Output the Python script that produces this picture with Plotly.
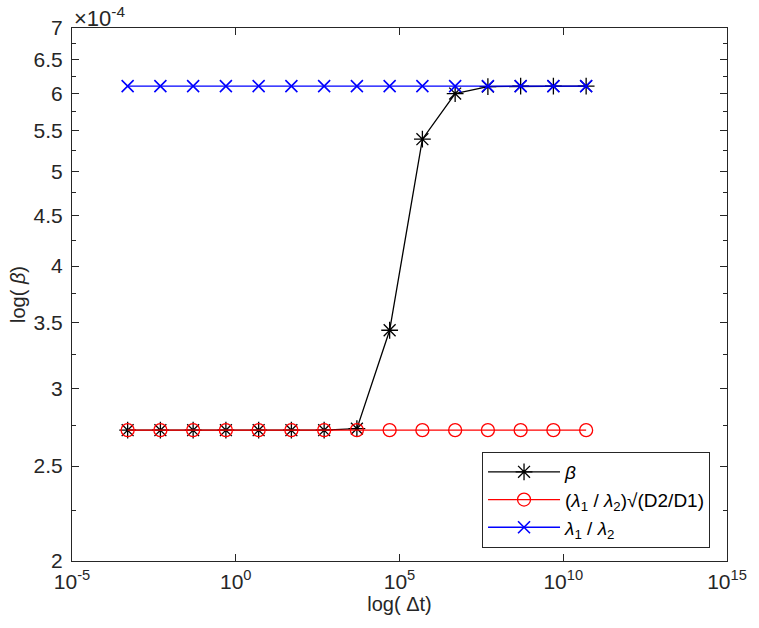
import plotly.graph_objects as go

dt = [5e-4, 5e-3, 5e-2, 5e-1, 5e0, 5e1, 5e2, 5e3, 5e4, 5e5, 5e6, 5e7, 5e8, 5e9, 5e10]
beta = [2.72e-4, 2.72e-4, 2.72e-4, 2.72e-4, 2.72e-4, 2.72e-4, 2.72e-4, 2.73e-4,
        3.44e-4, 5.39e-4, 6.00e-4, 6.10e-4, 6.105e-4, 6.105e-4, 6.105e-4]
ratio_sqrt = [2.72e-4] * 15
ratio = [6.107e-4] * 15

y_ticks = [2e-4, 2.5e-4, 3e-4, 3.5e-4, 4e-4, 4.5e-4, 5e-4, 5.5e-4, 6e-4, 6.5e-4, 7e-4]
y_ticktext = ["2", "2.5", "3", "3.5", "4", "4.5", "5", "5.5", "6", "6.5", "7"]
y_minor = [2.25e-4, 2.75e-4, 3.25e-4, 3.75e-4, 4.25e-4, 4.75e-4, 5.25e-4, 5.75e-4, 6.25e-4, 6.75e-4]
x_ticks = [1e-5, 1e0, 1e5, 1e10, 1e15]
x_ticktext = ["10<sup>-5</sup>", "10<sup>0</sup>", "10<sup>5</sup>", "10<sup>10</sup>", "10<sup>15</sup>"]

FONT = "Liberation Sans, Arial, sans-serif"
TXT = "#262626"

fig = go.Figure()
fig.add_trace(go.Scatter(x=dt, y=beta, mode="lines+markers", name="<i>β</i>",
                         line=dict(color="black", width=1.3),
                         marker=dict(symbol="asterisk-open", size=14, color="black",
                                     line=dict(color="black", width=1.3))))
fig.add_trace(go.Scatter(x=dt, y=ratio_sqrt, mode="lines+markers",
                         name="(<i>λ</i><sub>1</sub> / <i>λ</i><sub>2</sub>)√(D2/D1)",
                         line=dict(color="red", width=1.3),
                         marker=dict(symbol="circle-open", size=13, color="red",
                                     line=dict(color="red", width=1.3))))
fig.add_trace(go.Scatter(x=dt, y=ratio, mode="lines+markers",
                         name="<i>λ</i><sub>1</sub> / <i>λ</i><sub>2</sub>",
                         line=dict(color="blue", width=1.3),
                         marker=dict(symbol="x-thin-open", size=12, color="blue",
                                     line=dict(color="blue", width=1.6))))

axis_common = dict(showgrid=False, zeroline=False, showline=True, linecolor=TXT,
                   linewidth=1, mirror="ticks", ticks="inside", ticklen=7,
                   tickcolor=TXT, tickfont=dict(family=FONT, size=21, color=TXT))

fig.update_xaxes(type="log", range=[-5, 15], tickmode="array", tickvals=x_ticks,
                 ticktext=x_ticktext, ticklabelstandoff=2,
                 title=dict(text="log( Δt)", font=dict(family=FONT, size=20, color=TXT), standoff=2),
                 **axis_common)
fig.update_yaxes(type="log", range=[-3.69897, -3.1549], tickmode="array", tickvals=y_ticks,
                 ticktext=y_ticktext, ticklabelstandoff=4,
                 minor=dict(tickvals=y_minor, ticks="inside", ticklen=4, tickcolor=TXT),
                 title=dict(text="log( <i>β</i>)", font=dict(family=FONT, size=20, color=TXT), standoff=2),
                 **axis_common)

fig.add_annotation(xref="paper", yref="paper", x=0.0, y=1.0, xanchor="left", yanchor="bottom",
                   text="×10<sup>-4</sup>", showarrow=False,
                   font=dict(family=FONT, size=22, color=TXT), yshift=-5)

fig.update_layout(
    width=759, height=628,
    margin=dict(l=72, r=21, t=28, b=67),
    plot_bgcolor="white", paper_bgcolor="white",
    legend=dict(x=0.626, y=0.2045, xanchor="left", yanchor="top",
                bordercolor=TXT, borderwidth=1, bgcolor="white",
                font=dict(family=FONT, size=19, color="black"),
                itemwidth=72, tracegroupgap=0),
)

fig.write_html("out.html")
